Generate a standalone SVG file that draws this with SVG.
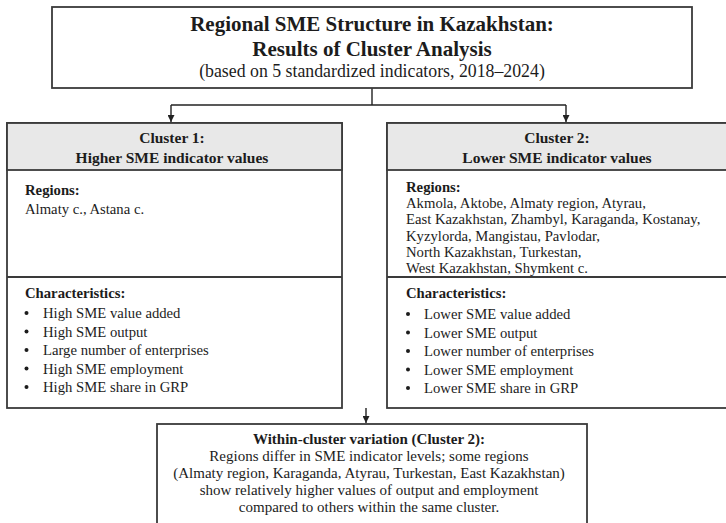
<svg xmlns="http://www.w3.org/2000/svg" width="726" height="523" viewBox="0 0 726 523">
<defs>
<marker id="arr" viewBox="0 0 10 10" refX="10" refY="5" markerWidth="7" markerHeight="7" markerUnits="userSpaceOnUse" orient="auto">
<path d="M0,0 L10,5 L0,10 z" fill="#222"/>
</marker>
<style>
.box{fill:#fff;stroke:#3a3a3a;stroke-width:1.8}
.hdr{fill:#e8e8e8;stroke:#3a3a3a;stroke-width:1.8}
.ln{stroke:#3a3a3a;stroke-width:1.8}
.con{fill:none;stroke:#222;stroke-width:1.4}
.dot{fill:#1c1c1c}
text{font-family:"Liberation Serif","Times New Roman",serif;fill:#1c1c1c}
.t1{font-size:21px;font-weight:bold;text-anchor:middle}
.t2{font-size:17.8px;text-anchor:middle}
.h{font-size:15.5px;font-weight:bold;text-anchor:middle}
.b{font-size:14.7px;font-weight:bold}
.r{font-size:14.7px}
.bc{font-size:15px;text-anchor:middle}
.bch{font-size:15px;font-weight:bold;text-anchor:middle}
</style>
</defs>
<rect width="726" height="523" fill="#fff"/>

<g id="connectors">
<path class="con" d="M372,88 V105"/>
<path class="con" d="M171,105 H566"/>
<path class="con" d="M171,105 V122" marker-end="url(#arr)"/>
<path class="con" d="M566,105 V122" marker-end="url(#arr)"/>
<path class="con" d="M366,408 V423" marker-end="url(#arr)"/>
</g>

<g id="title">
<rect class="box" x="52" y="7" width="640" height="81"/>
<text class="t1" x="372" y="31">Regional SME Structure in Kazakhstan:</text>
<text class="t1" x="372" y="56">Results of Cluster Analysis</text>
<text class="t2" x="372" y="77">(based on 5 standardized indicators, 2018–2024)</text>
</g>

<g id="cluster1">
<rect class="box" x="7" y="123" width="335" height="285"/>
<rect class="hdr" x="7" y="123" width="335" height="47"/>
<line class="ln" x1="7" y1="277" x2="342" y2="277"/>
<text class="h" x="172" y="143">Cluster 1:</text>
<text class="h" x="172" y="163">Higher SME indicator values</text>
<text class="b" x="25" y="195">Regions:</text>
<text class="r" x="25" y="214">Almaty c., Astana c.</text>
<text class="b" x="25" y="298">Characteristics:</text>
<circle class="dot" cx="26.5" cy="313" r="2"/>
<circle class="dot" cx="26.5" cy="331.5" r="2"/>
<circle class="dot" cx="26.5" cy="350" r="2"/>
<circle class="dot" cx="26.5" cy="368.5" r="2"/>
<circle class="dot" cx="26.5" cy="387" r="2"/>
<text class="r" x="43" y="318">High SME value added</text>
<text class="r" x="43" y="336.5">High SME output</text>
<text class="r" x="43" y="355">Large number of enterprises</text>
<text class="r" x="43" y="373.5">High SME employment</text>
<text class="r" x="43" y="392">High SME share in GRP</text>
</g>

<g id="cluster2">
<rect class="box" x="387" y="123" width="345" height="285"/>
<rect class="hdr" x="387" y="123" width="345" height="47"/>
<line class="ln" x1="387" y1="277" x2="732" y2="277"/>
<text class="h" x="557" y="143">Cluster 2:</text>
<text class="h" x="557" y="163">Lower SME indicator values</text>
<text class="b" x="406" y="192">Regions:</text>
<text class="r" x="406" y="208">Akmola, Aktobe, Almaty region, Atyrau,</text>
<text class="r" x="406" y="224">East Kazakhstan, Zhambyl, Karaganda, Kostanay,</text>
<text class="r" x="406" y="240.5">Kyzylorda, Mangistau, Pavlodar,</text>
<text class="r" x="406" y="256.5">North Kazakhstan, Turkestan,</text>
<text class="r" x="406" y="272.5">West Kazakhstan, Shymkent c.</text>
<text class="b" x="406" y="298">Characteristics:</text>
<circle class="dot" cx="408" cy="314" r="2"/>
<circle class="dot" cx="408" cy="332.5" r="2"/>
<circle class="dot" cx="408" cy="351" r="2"/>
<circle class="dot" cx="408" cy="369.5" r="2"/>
<circle class="dot" cx="408" cy="388" r="2"/>
<text class="r" x="424" y="319">Lower SME value added</text>
<text class="r" x="424" y="337.5">Lower SME output</text>
<text class="r" x="424" y="356">Lower number of enterprises</text>
<text class="r" x="424" y="374.5">Lower SME employment</text>
<text class="r" x="424" y="393">Lower SME share in GRP</text>
</g>

<g id="variation">
<rect class="box" x="157" y="424" width="430" height="110"/>
<text class="bch" x="369" y="444">Within-cluster variation (Cluster 2):</text>
<text class="bc" x="369" y="461">Regions differ in SME indicator levels; some regions</text>
<text class="bc" x="369" y="478">(Almaty region, Karaganda, Atyrau, Turkestan, East Kazakhstan)</text>
<text class="bc" x="369" y="495">show relatively higher values of output and employment</text>
<text class="bc" x="369" y="512">compared to others within the same cluster.</text>
</g>
</svg>
